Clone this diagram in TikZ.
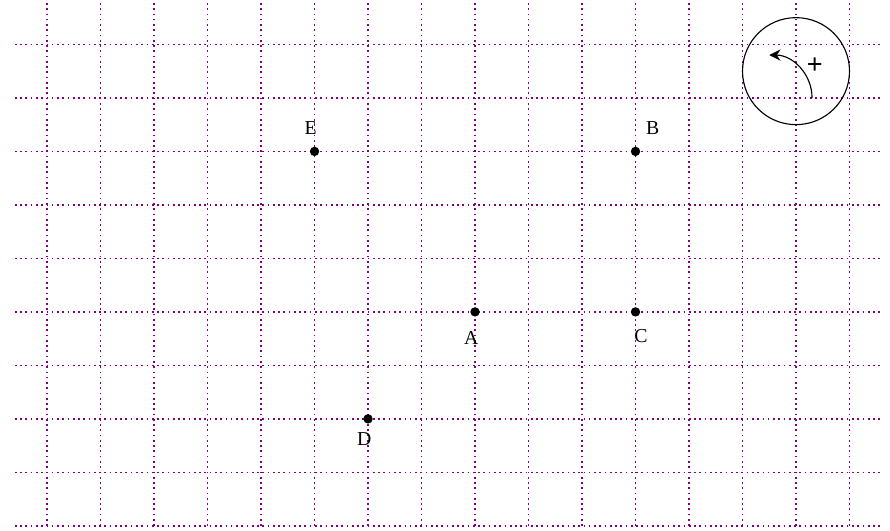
\documentclass[tikz,border=0pt]{standalone}
\usepackage{fontspec}
\setmainfont{Liberation Serif}
\setsansfont{Liberation Sans}
\usetikzlibrary{arrows.meta}
\definecolor{gridpurple}{RGB}{128,0,128}
\tikzset{
  gridline/.style={gridpurple, line width=0.9pt, dash pattern=on 0.9pt off 1.9pt},
  pt/.style={circle, fill=black, inner sep=0pt, minimum size=5pt},
  lbl/.style={font=\fontsize{10.5}{12}\selectfont, inner sep=1pt},
  thinline/.style={line width=0.6pt}
}
\begin{document}
\begin{tikzpicture}
\useasboundingbox (-0.879,-0.093) rectangle (15.757,9.83);
\draw[gridline, step=1] (-0.6,0) grid (15.63,9.83);
\node[pt] (A) at (8,4) {};
\node[pt] (B) at (11,7) {};
\node[pt] (C) at (11,4) {};
\node[pt] (D) at (6,2) {};
\node[pt] (E) at (5,7) {};
\node[lbl] (lA) at ([shift={(-0.07,-0.48)}]A) {A};
\node[lbl] (lB) at ([shift={(0.32,0.43)}]B) {B};
\node[lbl] (lC) at ([shift={(0.1,-0.45)}]C) {C};
\node[lbl] (lD) at ([shift={(-0.07,-0.37)}]D) {D};
\node[lbl] (lE) at ([shift={(-0.07,0.43)}]E) {E};
\node[circle, draw, thinline, minimum size=2cm, inner sep=0pt] (rot) at (14,8.5) {};
\coordinate (arcstart) at (14.3,8);
\draw[thinline, -{Stealth[length=6pt,width=6pt,inset=2pt]}] (arcstart) arc[start angle=0, end angle=90, radius=0.8];
\node[font=\sffamily\Large] (plus) at (14.35,8.6) {+};
\end{tikzpicture}
\end{document}
